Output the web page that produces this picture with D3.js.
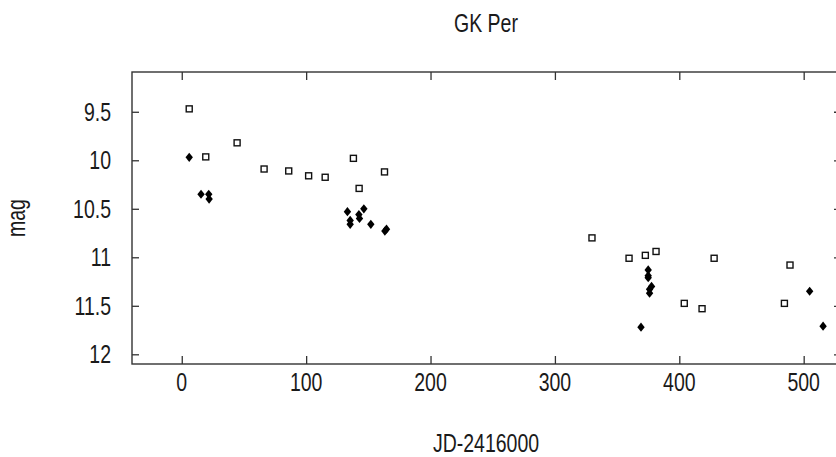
<!DOCTYPE html>
<html>
<head>
<meta charset="utf-8">
<script src="https://cdn.jsdelivr.net/npm/d3@7"></script>
<style>
body { margin: 0; background: #fff; }
text { font-family: "Liberation Sans Narrow", "Liberation Sans", Arial, sans-serif; fill: #1a1a1a; }
</style>
</head>
<body>
<div id="chart"></div>
<script>
var title = "GK Per";
var xLabel = "JD-2416000";
var yLabel = "mag";
var xTicks = [0, 100, 200, 300, 400, 500];
var yTicks = [9.5, 10, 10.5, 11, 11.5, 12];

// open squares
var squareJD  = [6, 19.3, 44.5, 66.2, 86, 102, 115.3, 138, 142.6, 163, 329.8, 359.6, 372.7, 381.3, 404, 418.3, 428, 484.5, 489];
var squareMag = [9.47, 9.965, 9.82, 10.09, 10.11, 10.16, 10.175, 9.98, 10.29, 10.12, 10.80, 11.01, 10.98, 10.94, 11.475, 11.53, 11.01, 11.475, 11.08];

// filled diamonds
var diamondJD  = [6, 15.5, 21.7, 22, 133.2, 135.4, 135.4, 142.4, 142.9, 146.4, 152, 163.3, 164.6, 369.2, 375, 375, 375, 377.7, 376.1, 376.1, 504.8, 515.6];
var diamondMag = [9.97, 10.35, 10.35, 10.40, 10.53, 10.62, 10.66, 10.56, 10.60, 10.50, 10.66, 10.73, 10.71, 11.72, 11.13, 11.19, 11.21, 11.30, 11.33, 11.37, 11.35, 11.71];

var width = 836, height = 457;
// plot frame (right side runs just past the window, like the original)
var plotLeft = 132, plotRight = 841, plotTop = 72, plotBottom = 364;

var svg = d3.select("#chart")
    .append("svg")
    .attr("width", width)
    .attr("height", height);

var x = d3.scaleLinear().domain([-40, 530]).range([plotLeft, plotRight]);
var y = d3.scaleLinear().domain([9.09, 12.1]).range([plotTop, plotBottom]);

// tick marks on all four sides, pointing in
function drawAxis(gen, tx, ty) {
    var g = svg.append("g")
        .attr("transform", "translate(" + tx + "," + ty + ")")
        .call(gen);
    g.select(".domain").remove();
    g.selectAll("line").attr("stroke", "#333").attr("stroke-width", 1.3);
    g.selectAll("text").remove();
    return g;
}
drawAxis(d3.axisBottom(x).tickValues(xTicks).tickSize(-8), 0, plotBottom);
drawAxis(d3.axisTop(x).tickValues(xTicks).tickSize(-8), 0, plotTop);
drawAxis(d3.axisLeft(y).tickValues(yTicks).tickSize(-7), plotLeft, 0);
drawAxis(d3.axisRight(y).tickValues(yTicks).tickSize(-7), plotRight, 0);

svg.append("rect")
    .attr("x", plotLeft)
    .attr("y", plotTop)
    .attr("width", plotRight - plotLeft)
    .attr("height", plotBottom - plotTop)
    .attr("fill", "none")
    .attr("stroke", "#333")
    .attr("stroke-width", 1.4);

// narrow text, squeezed a bit more like the original
function label(px, py, str, anchor, size, rot) {
    var t = svg.append("text")
        .attr("text-anchor", anchor)
        .attr("font-size", size)
        .attr("transform", "translate(" + px + "," + py + ")" + (rot ? " rotate(" + rot + ")" : "") + " scale(0.78,1)")
        .text(str);
    return t;
}

for (var i = 0; i < xTicks.length; i++) {
    label(x(xTicks[i]), 391, xTicks[i], "middle", 25);
}
for (var i = 0; i < yTicks.length; i++) {
    label(111, y(yTicks[i]) + 9, yTicks[i], "end", 25);
}
label(486, 32, title, "middle", 25);
label(486, 452, xLabel, "middle", 25);
label(25, 218, yLabel, "middle", 25, -90);

var squares = d3.range(squareJD.length).map(function (i) { return [squareJD[i], squareMag[i]]; });
var diamonds = d3.range(diamondJD.length).map(function (i) { return [diamondJD[i], diamondMag[i]]; });

svg.append("g").selectAll("rect")
    .data(squares)
    .enter().append("rect")
    .attr("x", function (d) { return x(d[0]) - 3; })
    .attr("y", function (d) { return y(d[1]) - 3; })
    .attr("width", 6)
    .attr("height", 6)
    .attr("fill", "#fff")
    .attr("stroke", "#111")
    .attr("stroke-width", 1.4);

svg.append("g").selectAll("path")
    .data(diamonds)
    .enter().append("path")
    .attr("transform", function (d) { return "translate(" + x(d[0]) + "," + y(d[1]) + ")"; })
    .attr("d", "M0,-4.6L3.7,0L0,4.6L-3.7,0Z")
    .attr("fill", "#000");
</script>
</body>
</html>
